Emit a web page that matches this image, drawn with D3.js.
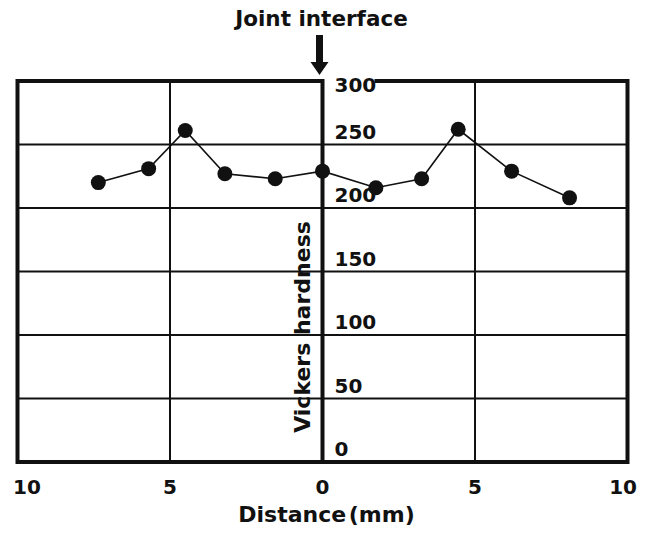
<!DOCTYPE html>
<html>
<head>
<meta charset="utf-8">
<script src="https://cdn.jsdelivr.net/npm/d3@7"></script>
<style>
  html, body { margin: 0; padding: 0; background: #fff; }
  svg { display: block; }
  text { font-family: "DejaVu Sans", Verdana, sans-serif; font-weight: bold; fill: #111; }
</style>
</head>
<body>
<svg id="chart" width="652" height="533"></svg>
<script>
// Hardness profile across the joint (distance in mm, negative = left side)
const distance = [-7.35, -5.7, -4.5, -3.2, -1.55, 0, 1.75, 3.25, 4.45, 6.2, 8.1];
const hardness = [220, 231, 261, 227, 223, 229, 216, 223, 262, 229, 208];

const xTicks = [-10, -5, 0, 5, 10];
const yTicks = [0, 50, 100, 150, 200, 250, 300];
const gridX = [-5, 5];
const gridY = [50, 100, 150, 200, 250];

const svg = d3.select("#chart");

const x = d3.scaleLinear().domain([-10, 10]).range([17.5, 627.5]);
const y = d3.scaleLinear().domain([0, 300]).range([462, 81]);

const ink = "#111";

// grid lines
svg.append("g").selectAll("line").data(gridY).join("line")
  .attr("x1", x(-10)).attr("x2", x(10))
  .attr("y1", d => y(d)).attr("y2", d => y(d))
  .attr("stroke", ink).attr("stroke-width", 2);
svg.append("g").selectAll("line").data(gridX).join("line")
  .attr("x1", d => x(d)).attr("x2", d => x(d))
  .attr("y1", y(300)).attr("y2", y(0))
  .attr("stroke", ink).attr("stroke-width", 2);

// y-axis title, running up beside the central axis
svg.append("text")
  .attr("transform", `translate(${x(0) - 13},327) rotate(-90)`)
  .attr("text-anchor", "middle")
  .attr("font-size", 22)
  .text("Vickers hardness");

// frame, with a gap in the top edge for the top tick label
const gapEnd = x(0) + 52;
svg.append("path")
  .attr("d", `M${x(0)},${y(300)} L${x(-10)},${y(300)} L${x(-10)},${y(0)} L${x(10)},${y(0)} L${x(10)},${y(300)} L${gapEnd},${y(300)}`)
  .attr("fill", "none").attr("stroke", ink).attr("stroke-width", 4)
  .attr("stroke-linejoin", "miter");

// central (joint) axis
svg.append("line")
  .attr("x1", x(0)).attr("x2", x(0))
  .attr("y1", y(300) - 2).attr("y2", y(0) + 2)
  .attr("stroke", ink).attr("stroke-width", 4);

// y tick labels to the right of the central axis
svg.append("g").selectAll("text").data(yTicks).join("text")
  .attr("x", x(0) + 12)
  .attr("y", d => Math.max(y(d) - 13, y(300) + 4))
  .attr("dy", "0.36em")
  .attr("font-size", 20)
  .text(d => d);

// x tick labels (absolute distance from the interface)
const xl = svg.append("g").selectAll("text").data(xTicks).join("text")
  .attr("y", 494)
  .attr("text-anchor", "middle")
  .attr("font-size", 20)
  .text(d => Math.abs(d));
xl.each(function(d) {
  const w = this.getComputedTextLength();
  const cx = Math.min(Math.max(x(d), 13 + w / 2), 637 - w / 2);
  d3.select(this).attr("x", cx);
});

// x-axis title
svg.append("text")
  .attr("x", x(0) + 4).attr("y", 522)
  .attr("text-anchor", "middle")
  .attr("font-size", 22)
  .attr("word-spacing", -5)
  .text("Distance (mm)");

// data line and markers
const line = d3.line().x((d, i) => x(distance[i])).y(d => y(d));
svg.append("path").datum(hardness)
  .attr("d", line)
  .attr("fill", "none").attr("stroke", ink).attr("stroke-width", 1.6);
svg.append("g").selectAll("circle").data(hardness).join("circle")
  .attr("cx", (d, i) => x(distance[i]))
  .attr("cy", d => y(d))
  .attr("r", 7.5)
  .attr("fill", ink);

// interface annotation with arrow
const ax = x(0) - 3;
svg.append("text")
  .attr("x", ax + 2).attr("y", 26)
  .attr("text-anchor", "middle")
  .attr("font-size", 21.5)
  .text("Joint interface");
svg.append("path")
  .attr("d", `M${ax - 3.5},35 L${ax + 3.5},35 L${ax + 3.5},62 L${ax + 9},62 L${ax},75 L${ax - 9},62 L${ax - 3.5},62 Z`)
  .attr("fill", ink);
</script>
</body>
</html>
